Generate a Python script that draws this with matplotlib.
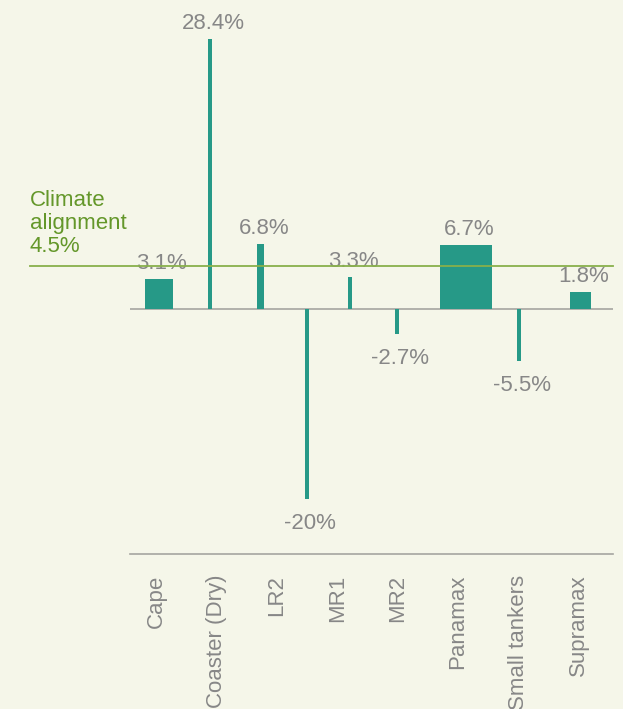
import numpy as np
import matplotlib
matplotlib.use("Agg")
import matplotlib.pyplot as plt
import matplotlib.transforms as mtransforms

plt.rcParams['font.family'] = ['Liberation Sans', 'DejaVu Sans']

# categories shown on the x axis (evenly spaced ticks)
categories = ['Cape', 'Coaster (Dry)', 'LR2', 'MR1', 'MR2', 'Panamax',
              'Small tankers', 'Supramax']

# bars: value (%), centre (in tick units) and width (in tick units)
values = [3.1, 28.4, 6.8, -20, 3.3, -2.7, 6.7, -5.5, 1.8]
centres = [0.04, 0.89, 1.73, 2.50, 3.21, 3.99, 5.13, 6.01, 7.03]
widths = [0.46, 0.066, 0.116, 0.066, 0.061, 0.061, 0.86, 0.066, 0.35]

climate = 4.5

bg = '#f5f6e9'
teal = '#269987'
grey_txt = '#878787'
grey_line = '#a5a5a0'
green_txt = '#64972a'
green_line = '#88b04b'

W, H = 623, 709
fig = plt.figure(figsize=(W / 100, H / 100), dpi=100, facecolor=bg)
# axes box in pixels: x 130..613, y 0..554 (from top)
ax = fig.add_axes([130 / W, (H - 554) / H, (613 - 130) / W, 554 / H])
ax.set_facecolor(bg)

ax.bar(centres, values, width=widths, color=teal, zorder=3)

for c, v in zip(centres, values):
    txt = f"{v:g}%"
    if v >= 0:
        ax.annotate(txt, (c, v), xytext=(3, 5), textcoords='offset pixels',
                    ha='center', va='bottom', fontsize=16, color=grey_txt, zorder=4)
    else:
        ax.annotate(txt, (c, v), xytext=(3, -14), textcoords='offset pixels',
                    ha='center', va='top', fontsize=16, color=grey_txt, zorder=4)

ax.axhline(0, color=grey_line, lw=1.2, zorder=2)

# climate alignment line extends left of the axes
left = (30 - 130) / (613 - 130)
ax.axhline(climate, xmin=left, xmax=1, color=green_line, lw=1.3, clip_on=False, zorder=5)
trans = mtransforms.blended_transform_factory(ax.transAxes, ax.transData)
ax.annotate(f"Climate\nalignment\n{climate:g}%", (left, climate), xycoords=trans,
            xytext=(0, 9), textcoords='offset pixels', ha='left', va='bottom',
            fontsize=16, color=green_txt, linespacing=1.13, annotation_clip=False)

ax.set_xlim(-0.438, 7.572)
ax.set_ylim(-25.8, 32.5)

ax.set_xticks(range(len(categories)))
ax.set_xticklabels(categories, rotation=90, fontsize=16, color=grey_txt)
ax.tick_params(axis='x', length=0, pad=15)
ax.set_yticks([])

for s in ['top', 'left', 'right']:
    ax.spines[s].set_visible(False)
ax.spines['bottom'].set_color(grey_line)
ax.spines['bottom'].set_linewidth(1.2)

fig.savefig('out.png', dpi=100, facecolor=bg)
